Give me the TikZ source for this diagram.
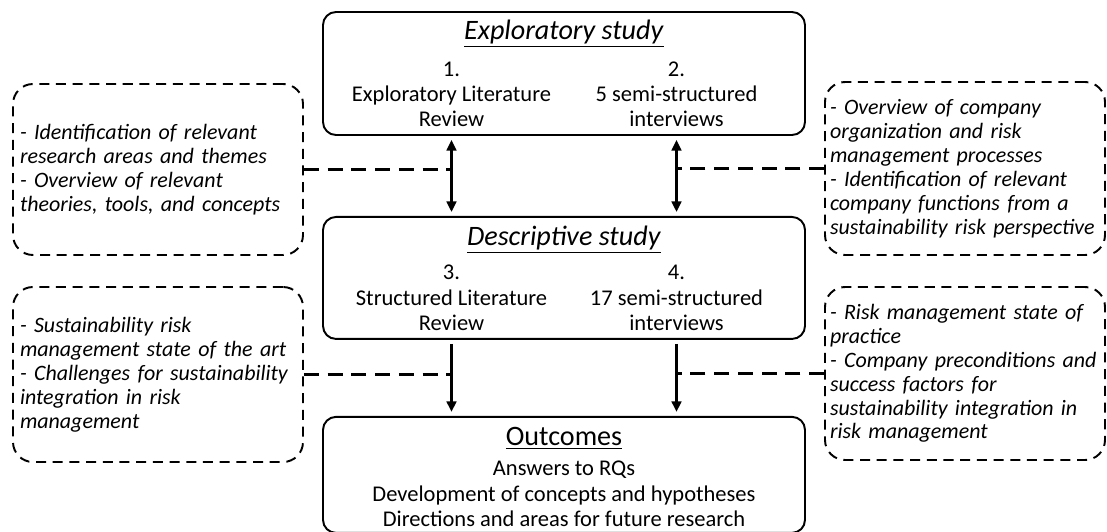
\documentclass[tikz,border=0pt]{standalone}
\usepackage{fontspec}
\setmainfont{Carlito}
\usetikzlibrary{positioning,arrows.meta}
\newcommand\stacked[1]{\begin{tabular}[t]{@{}c@{}}#1\end{tabular}}
\tikzset{
  >={Triangle[length=6pt,width=5.5pt]},
  stage/.style = {draw, line width=1.1pt, rounded corners=0.26cm, minimum width=9.64cm},
  stagetitle/.style = {font=\fontsize{16}{18}\selectfont, anchor=base, inner sep=0pt},
  stagetext/.style = {font=\fontsize{12.8}{14.4}\selectfont, anchor=base, inner sep=0pt},
  note/.style = {draw, line width=1.1pt, dash pattern=on 5.7pt off 3.8pt, rounded corners=0.4cm,
    align=left, inner xsep=0.14cm, font=\fontsize{12.5}{13.6}\selectfont\itshape},
  feed/.style = {line width=1.4pt, shorten >=0.08cm, shorten <=0.08cm},
  link/.style = {line width=1.6pt, dash pattern=on 8.5pt off 5pt}
}

\begin{document}
\begin{tikzpicture}
  \useasboundingbox (0,0) rectangle (22.14,-10.62);

  % the three stages
  \node[stage, minimum height=2.46cm] (explo) at (11.28,-1.47) {};
  \node[stage, minimum height=2.44cm, below=1.6cm of explo] (descr) {};
  \node[stage, minimum height=2.32cm, below=1.52cm of descr] (outc) {};

  \coordinate (c1) at (9.03,0);
  \coordinate (c2) at (13.53,0);

  \node[stagetitle, yshift=-0.57cm] (explottl) at (explo.north) {\underline{\textit{Exploratory study}}};
  \node[stagetext, yshift=-1.30cm] (explo1) at (c1 |- explo.north) {\stacked{1.\\Exploratory Literature\\Review}};
  \node[stagetext, yshift=-1.30cm] (explo2) at (c2 |- explo.north) {\stacked{2.\\5 semi-structured\\interviews}};

  \node[stagetitle, yshift=-0.59cm] (descrttl) at (descr.north) {\underline{\textit{Descriptive study}}};
  \node[stagetext, yshift=-1.28cm] (descr3) at (c1 |- descr.north) {\stacked{3.\\Structured Literature\\Review}};
  \node[stagetext, yshift=-1.28cm] (descr4) at (c2 |- descr.north) {\stacked{4.\\17 semi-structured\\interviews}};

  \node[stagetitle, yshift=-0.60cm] (outcttl) at (outc.north) {\underline{Outcomes}};
  \node[stagetext, yshift=-1.20cm] (outctxt) at (outc.north) {\stacked{Answers to RQs\\Development of concepts and hypotheses\\Directions and areas for future research}};

  % findings of each study
  \node[note, text width=5.52cm, minimum height=3.42cm] (exploL) at (3.16,-3.39)
    {- Identification of relevant\\research areas and themes\\- Overview of relevant\\theories, tools, and concepts};
  \node[note, text width=5.52cm, minimum height=3.50cm] (descrL) at (3.16,-7.49)
    {- Sustainability risk\\management state of the art\\- Challenges for sustainability\\integration in risk\\management};
  \node[note, inner xsep=0.1cm, text width=5.40cm, minimum height=3.46cm] (exploR) at (19.30,-3.37)
    {- Overview of company\\organization and risk\\management processes\\- Identification of relevant\\company functions from a\\sustainability risk perspective};
  \node[note, inner xsep=0.1cm, text width=5.40cm, minimum height=3.46cm] (descrR) at (19.30,-7.47)
    {- Risk management state of\\practice\\- Company preconditions and\\success factors for\\sustainability integration in\\risk management};

  \draw[feed, <->] (c1 |- explo.south) -- (c1 |- descr.north);
  \draw[feed, <->] (c2 |- explo.south) -- (c2 |- descr.north);
  \draw[feed, ->] (c1 |- descr.south) -- (c1 |- outc.north);
  \draw[feed, ->] (c2 |- descr.south) -- (c2 |- outc.north);

  \draw[link] (exploL.east) -- (exploL.east -| c1);
  \draw[link] (exploR.west) -- (exploR.west -| c2);
  \draw[link] (descrL.east) -- (descrL.east -| c1);
  \draw[link] (descrR.west) -- (descrR.west -| c2);
\end{tikzpicture}
\end{document}
